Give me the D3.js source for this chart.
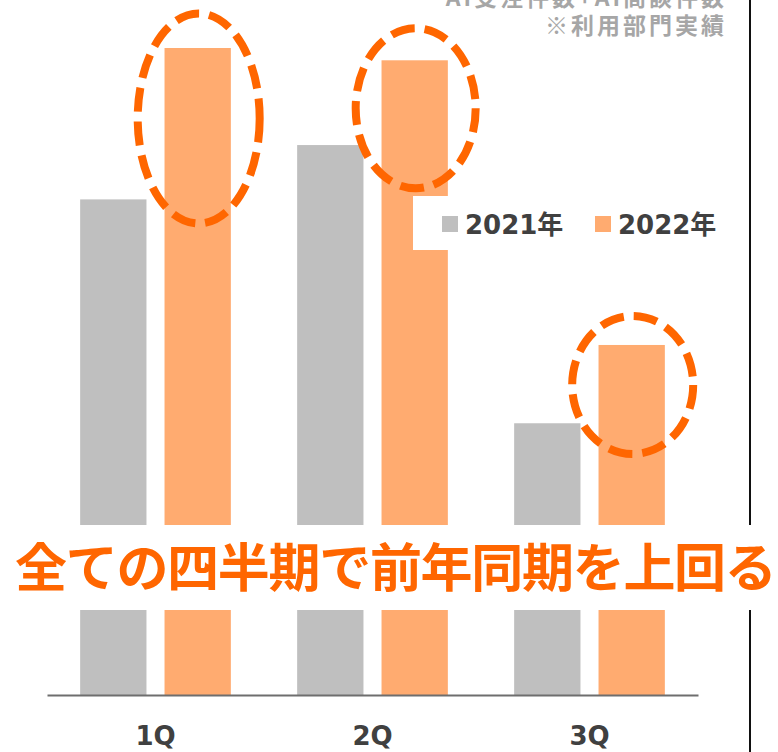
<!DOCTYPE html>
<html>
<head>
<meta charset="utf-8">
<script src="https://cdn.jsdelivr.net/npm/d3@7"></script>
<style>
  body { margin: 0; background: #fff; }
  svg { display: block; }
</style>
</head>
<body>
<div id="chart_area"></div>
<script>
// quarters and series
var quarters = ["1Q", "2Q", "3Q"];
var series = ["2021年", "2022年"];
// relative values (2022 1Q = 100)
var values2021 = [76.6, 85.0, 42.0];
var values2022 = [100, 98.1, 54.1];
var seriesColors = ["#bfbfbf", "#ffab70"];
var titleLines = ["AI受注件数+AI商談件数", "※利用部門実績"];
var headline = "全ての四半期で前年同期を上回る";
// highlight ellipses round the 2022 bars: radii and offset below bar top
var highlightRx = [61, 60, 60.5];
var highlightRy = [105, 80, 69];
var highlightDy = [70.5, 48, 40];

var frame_width = 778;
var frame_height = 752;

var frame = d3.select("#chart_area").append("svg")
    .attr("width", frame_width)
    .attr("height", frame_height);

var rows = quarters.map(function(q, i) {
    return {quarter: q, vals: [values2021[i], values2022[i]]};
});

var xScale = d3.scaleBand().domain(quarters).range([47, 698]).padding(0);
var xSub = d3.scaleBand().domain(series).range([0, xScale.bandwidth()])
    .paddingInner(0.214).paddingOuter(0.393);
var yScale = d3.scaleLinear().domain([0, 100]).range([695, 48]);
var colScale = d3.scaleOrdinal().domain(series).range(seriesColors);

// bars
var groups = frame.append("g").selectAll("g")
    .data(rows).enter().append("g")
    .attr("transform", function(d) { return "translate(" + xScale(d.quarter) + ",0)"; });

groups.selectAll("rect")
    .data(function(d) { return d.vals.map(function(v, j) { return {s: series[j], v: v}; }); })
    .enter().append("rect")
    .attr("x", function(d) { return xSub(d.s); })
    .attr("width", xSub.bandwidth())
    .attr("y", function(d) { return yScale(d.v); })
    .attr("height", function(d) { return yScale(0) - yScale(d.v); })
    .style("fill", function(d) { return colScale(d.s); });

// x axis
var xAxis = d3.axisBottom(xScale).tickSize(0).tickPadding(32);
var axisG = frame.append("g")
    .attr("transform", "translate(0," + yScale(0) + ")")
    .call(xAxis);
axisG.select(".domain").attr("stroke", "#6e6e6e").attr("stroke-width", 2);
axisG.selectAll("text")
    .attr("font-family", "'DejaVu Sans', Verdana, sans-serif")
    .attr("font-weight", "bold")
    .attr("font-size", 26)
    .attr("fill", "#404040");

// highlight ellipses
frame.append("g").selectAll("ellipse")
    .data(rows).enter().append("ellipse")
    .attr("cx", function(d) { return xScale(d.quarter) + xSub("2022年") + xSub.bandwidth() / 2 + 1; })
    .attr("cy", function(d, i) { return yScale(d.vals[1]) + highlightDy[i]; })
    .attr("rx", function(d, i) { return highlightRx[i]; })
    .attr("ry", function(d, i) { return highlightRy[i]; })
    .attr("fill", "none")
    .attr("stroke", "#ff6600")
    .attr("stroke-width", 8)
    .attr("stroke-dasharray", "24 10");

// title (top right, cut at the top)
var title = frame.append("text")
    .attr("text-anchor", "end")
    .attr("font-family", "'Noto Sans CJK JP', sans-serif")
    .attr("font-weight", "bold")
    .attr("font-size", 23)
    .attr("letter-spacing", 3)
    .attr("fill", "#a6a6a6");
title.selectAll("tspan")
    .data(titleLines).enter().append("tspan")
    .attr("x", 727)
    .attr("y", function(d, i) { return 6 + i * 28; })
    .text(function(d) { return d; });

// legend
frame.append("rect")
    .attr("x", 413).attr("y", 196).attr("width", 322).attr("height", 54)
    .attr("fill", "#fff");
var legend = frame.append("g").selectAll("g")
    .data(series).enter().append("g")
    .attr("transform", function(d, i) { return "translate(" + (442 + i * 153) + ",216)"; });
legend.append("rect")
    .attr("width", 16).attr("height", 16)
    .attr("fill", function(d) { return colScale(d); });
legend.append("text")
    .attr("x", 23).attr("y", 18)
    .attr("font-family", "'DejaVu Sans', 'Noto Sans CJK JP', sans-serif")
    .attr("font-weight", "bold")
    .attr("font-size", 26)
    .attr("fill", "#404040")
    .text(function(d) { return d; });

// right frame line
frame.append("line")
    .attr("x1", 750).attr("x2", 750).attr("y1", 0).attr("y2", frame_height)
    .attr("stroke", "#111").attr("stroke-width", 2);

// headline band
frame.append("rect")
    .attr("x", 0).attr("y", 525).attr("width", frame_width).attr("height", 85)
    .attr("fill", "#fff");
frame.append("text")
    .attr("x", 15).attr("y", 587)
    .attr("font-family", "'Noto Sans CJK JP', sans-serif")
    .attr("font-weight", "bold")
    .attr("font-size", 52)
    .attr("letter-spacing", -1.3)
    .attr("fill", "#ff6600")
    .text(headline);
</script>
</body>
</html>
